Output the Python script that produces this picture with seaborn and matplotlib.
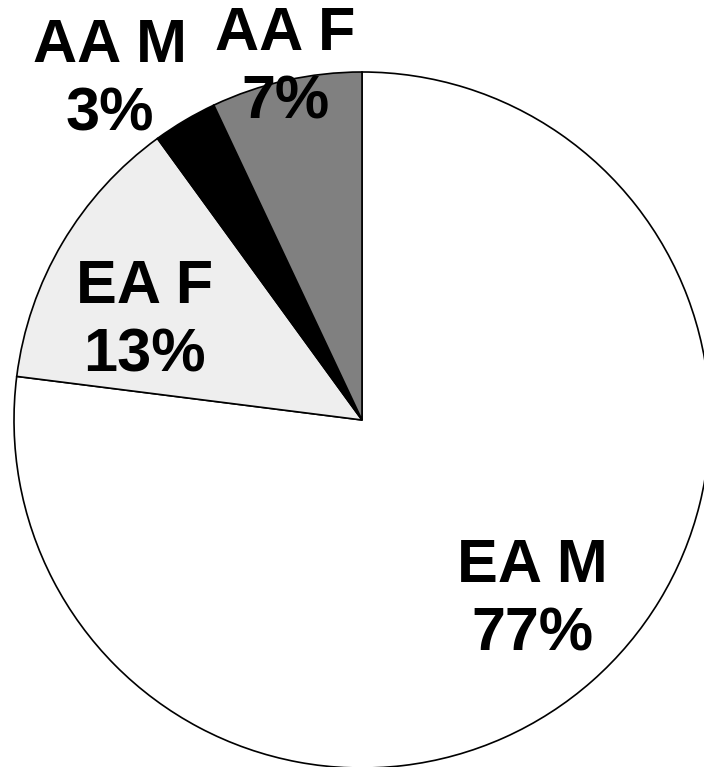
import matplotlib
matplotlib.use("Agg")
import matplotlib.pyplot as plt
import seaborn as sns

sns.set_theme(style="white")
plt.rcParams["font.family"] = ["Liberation Sans", "DejaVu Sans"]

groups = ["EA M", "EA F", "AA M", "AA F"]
shares = [77, 13, 3, 7]
colors = ["#ffffff", "#eeeeee", "#000000", "#808080"]
# label centres in axes data units (pie radius = 1)
label_pos = [(0.489, -0.520), (-0.624, 0.282), (-0.724, 0.975), (-0.221, 1.010)]

W, H = 704, 767
R = 348.0
cx, cy = 362.0, 420.0

fig = plt.figure(figsize=(W / 100, H / 100), dpi=100)
ax = fig.add_axes([0, 0, 1, 1])
ax.pie(shares, colors=colors, startangle=90, counterclock=False,
       wedgeprops=dict(edgecolor="black", linewidth=1.2), radius=1.0)
ax.set_xlim(-cx / R, (W - cx) / R)
ax.set_ylim(-(H - cy) / R, cy / R)
ax.set_aspect("equal")
ax.axis("off")

for name, val, (x, y) in zip(groups, shares, label_pos):
    ax.text(x, y, f"{name}\n{val}%", ha="center", va="center",
            fontsize=44, fontweight="bold", color="black",
            linespacing=1.25)

fig.savefig("out.png", dpi=100, facecolor="white")
